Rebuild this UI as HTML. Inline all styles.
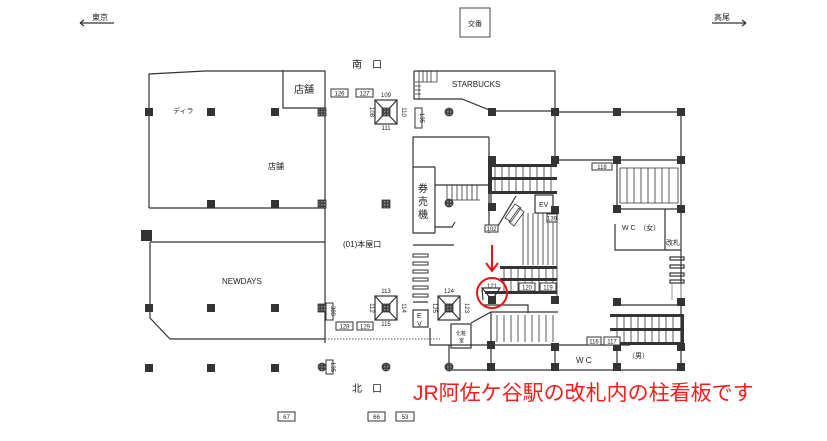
<!DOCTYPE html>
<html><head><meta charset="utf-8"><style>
html,body{margin:0;padding:0;background:#fff;}
svg{display:block;font-family:"Liberation Sans","Noto Sans CJK JP",sans-serif;}
</style></head><body>
<svg width="827" height="441" viewBox="0 0 827 441" xmlns="http://www.w3.org/2000/svg">
<defs>
<pattern id="hatch" width="3" height="3" patternUnits="userSpaceOnUse"><rect width="3" height="3" fill="#444"/><rect width="1.5" height="1.5" fill="#888"/></pattern>
</defs>
<g fill="none" stroke="#333" stroke-width="1.2">
<path d="M80 23 H114 M80 23 l4 -3 M80 23 l4 3"/>
<path d="M712 23 H746 M746 23 l-4 -3 M746 23 l-4 3"/>
<rect x="460" y="8" width="30" height="29" stroke="#666"/>
<path d="M149 208 V74 L205 71 H325 V343"/>
<path d="M283 70 V108 H325"/>
<path d="M149 208 H325 M150 242 H325 M150 242 V318 L170 339 H325"/>
<path d="M325 339 H440" stroke-dasharray="1.5 1.5" stroke="#777"/>
<path d="M414 71 H555 V160 M414 71 V99 H462 L492 111 H555"/>
<path d="M415 82 H437 M437 71 V82 M419 71 V99 M423 71V82 M427 71V82 M431 71 V82 M415 86 H421 M415 90 H421 M415 94 H421" stroke-width="0.8"/>
<path d="M555 112 H681 V160 H555"/>
<path d="M681 160 V370"/>
<path d="M489 137 H413 V233 H435 M435 167 V233 M413 167 H435 M435 185 H489 M435 227 H452 L455 222"/>
<path d="M489 137 V233" />
<path d="M447 185 V200 M452 185 V200 M457 185 V200 M462 185 V200 M467 185 V200 M472 185 V200 M477 185 V200 M447 200 H480" stroke-width="0.8"/>
<path d="M491 165 V210"/>
<path d="M495 165 V193 M502 165 V193 M509 165 V193 M516 165 V193 M523 165 V193 M530 165 V193 M537 165 V193 M544 165 V193 M551 165 V193" stroke-width="0.8"/>
<rect x="535" y="195" width="18" height="18"/>
<path d="M498 226 L516 196"/>
<path d="M505 218 l10 -14 l6 4 l-10 14 z M509 222 l10 -14 l5 4 l-10 14 z" stroke-width="0.8"/>
<path d="M523 213 V265 M528 213 V265 M533 213 V265 M538 213 V265 M543 213 V265 M548 213 V265 M553 213 V265 M557 210 V300" stroke-width="0.8"/>
<path d="M504 267 V292 M511 267 V292 M518 267 V292 M525 267 V292 M532 267 V292 M539 267 V292 M546 267 V292 M553 267 V292" stroke-width="0.8"/>
<path d="M413 245 H454 M413 302 H428"/>
<path d="M483 305 H528 V313 M471 323 L491 312 H558 M491 312 V347"/>
<path d="M497 315 V342 M504 315 V342 M511 315 V342 M518 315 V342 M525 315 V342 M532 315 V342 M539 315 V342 M546 315 V342 M553 315 V342" stroke-width="0.8"/>
<path d="M449 345 H630 M449 345 V370 M430 328 V345 H449 M449 370 H683 M491 345 V370 M555 345 V370 M617 345 V370"/>
<rect x="413" y="310" width="15" height="17"/>
<rect x="451" y="324" width="20" height="24"/>
<path d="M617 161 V209 M617 305 H681"/>
<path d="M620 168 H678 V203 H620 Z M627 168 V203 M634 168 V203 M641 168 V203 M648 168 V203 M655 168 V203 M662 168 V203 M669 168 V203" stroke-width="0.8"/>
<path d="M615 224 V250 H681 M665 209 V250 M617 209 H681"/>
<path d="M672 283 V300 M681 283 V300" stroke="#aaa"/>
<rect x="670" y="257" width="14" height="3"/><rect x="670" y="265" width="14" height="3"/><rect x="670" y="273" width="14" height="3"/><rect x="670" y="280" width="14" height="3"/>
<path d="M617 315 V345 M624 315 V345 M631 315 V345 M638 315 V345 M645 315 V345 M652 315 V345 M659 315 V345 M666 315 V345 M673 315 V345" stroke-width="0.8"/>
<rect x="375" y="100" width="22" height="24"/><path d="M375 100 L397 124 M397 100 L375 124"/>
<rect x="375" y="296" width="22" height="24"/><path d="M375 296 L397 320 M397 296 L375 320"/>
<rect x="438" y="296" width="22" height="24"/><path d="M438 296 L460 320 M460 296 L438 320"/>
<path d="M482 288 H500 L492 300 Z M483 300 L482 288"/>
</g>
<g fill="#fff" stroke="#333" stroke-width="1">
<rect x="413" y="254" width="15" height="3"/><rect x="413" y="262" width="15" height="3"/><rect x="413" y="270" width="15" height="3"/><rect x="413" y="278" width="15" height="3"/><rect x="413" y="286" width="15" height="3"/><rect x="413" y="294" width="15" height="3"/>
</g>
<g fill="#333">
<rect x="489" y="164" width="68" height="3"/><rect x="489" y="177" width="68" height="3"/><rect x="489" y="191" width="68" height="3"/>
<rect x="488" y="164" width="4" height="30"/>
<rect x="500" y="266" width="57" height="3"/><rect x="500" y="278" width="57" height="3"/><rect x="485" y="291" width="72" height="3"/>
<rect x="610" y="314" width="73" height="3"/><rect x="610" y="328" width="73" height="3"/><rect x="610" y="342" width="73" height="3"/>
<rect x="681" y="314" width="3" height="31"/>
</g>
<g fill="#333">
<rect x="145" y="108" width="8" height="8"/><rect x="207" y="108" width="8" height="8"/><rect x="271" y="108" width="8" height="8"/>
<rect x="207" y="200" width="8" height="8"/><rect x="271" y="200" width="8" height="8"/>
<rect x="141" y="230" width="11" height="11"/>
<rect x="145" y="304" width="8" height="8"/><rect x="207" y="304" width="8" height="8"/><rect x="271" y="304" width="8" height="8"/>
<rect x="145" y="364" width="8" height="8"/><rect x="207" y="364" width="8" height="8"/><rect x="271" y="364" width="8" height="8"/>
<rect x="488" y="108" width="8" height="8"/><rect x="551" y="108" width="8" height="8"/><rect x="613" y="108" width="8" height="8"/><rect x="677" y="108" width="8" height="8"/>
<rect x="488" y="156" width="8" height="8"/><rect x="551" y="156" width="8" height="8"/><rect x="613" y="156" width="8" height="8"/><rect x="677" y="156" width="8" height="8"/>
<rect x="488" y="203" width="8" height="8"/><rect x="551" y="206" width="8" height="8"/>
<rect x="613" y="205" width="8" height="8"/><rect x="677" y="205" width="8" height="8"/>
<rect x="488" y="296" width="8" height="8"/><rect x="551" y="296" width="8" height="8"/>
<rect x="613" y="298" width="8" height="8"/><rect x="677" y="298" width="8" height="8"/>
<rect x="487" y="341" width="8" height="8"/><rect x="551" y="343" width="8" height="8"/><rect x="613" y="343" width="8" height="8"/><rect x="677" y="343" width="8" height="8"/>
<rect x="487" y="363" width="8" height="8"/><rect x="551" y="363" width="8" height="8"/><rect x="613" y="363" width="8" height="8"/><rect x="677" y="363" width="8" height="8"/>
</g>
<g fill="url(#hatch)" stroke="#333" stroke-width="0.8">
<rect x="318" y="108" width="8" height="8"/><rect x="318" y="200" width="8" height="8"/><rect x="318" y="304" width="8" height="8"/>
<rect x="382" y="200" width="8" height="8"/>
<rect x="382" y="108" width="8" height="8"/><rect x="382" y="304" width="8" height="8"/><rect x="445" y="304" width="8" height="8"/>
<circle cx="322" cy="367" r="4"/><circle cx="386" cy="367" r="4"/><circle cx="449" cy="367" r="4"/>
<circle cx="449" cy="112" r="4"/><circle cx="449" cy="203" r="4"/>
</g>
<g fill="#fff" stroke="#333" stroke-width="1">
<rect x="331" y="89" width="17" height="8"/><rect x="356" y="89" width="17" height="8"/>
<rect x="415" y="108" width="7" height="20"/>
<rect x="326" y="303" width="7" height="17"/>
<rect x="336" y="322" width="17" height="8"/><rect x="357" y="322" width="16" height="8"/>
<rect x="326" y="360" width="7" height="14"/>
<rect x="278" y="412" width="17" height="9"/><rect x="368" y="412" width="17" height="9"/><rect x="396" y="412" width="18" height="9"/>
<rect x="485" y="225" width="13" height="7"/><rect x="547" y="214" width="10" height="8"/>
<rect x="592" y="163" width="20" height="7"/>
<rect x="519" y="283" width="16" height="8"/><rect x="540" y="283" width="16" height="8"/>
<rect x="587" y="337" width="14" height="8"/><rect x="604" y="337" width="16" height="8"/>
</g>
<g font-size="6" fill="#222" text-anchor="middle">
<text x="339.5" y="95.5">126</text><text x="364.5" y="95.5">127</text>
<text x="344.5" y="328.5">128</text><text x="365" y="328.5">129</text>
<text x="286.5" y="419">67</text><text x="376.5" y="419">66</text><text x="405" y="419">53</text>
<text x="491.5" y="231">102</text><text x="552" y="220.5">139</text><text x="602" y="169">118</text>
<text x="527" y="289.5">120</text><text x="548" y="289.5">119</text>
<text x="594" y="343.5">116</text><text x="612" y="343.5">117</text>
<text x="386" y="97">109</text><text x="386" y="130">111</text>
<text x="386" y="293">113</text><text x="386" y="326">115</text>
<text x="449" y="293">124</text><text x="492" y="288">121</text>
<text transform="translate(370,112) rotate(90)">108</text><text transform="translate(402,112) rotate(90)">110</text>
<text transform="translate(370,308) rotate(90)">112</text><text transform="translate(402,308) rotate(90)">114</text>
<text transform="translate(433,308) rotate(90)">125</text><text transform="translate(465,308) rotate(90)">123</text>
<text transform="translate(420,118) rotate(90)">135</text><text transform="translate(331,311) rotate(90)">389</text>
<text transform="translate(331,367) rotate(90)">135</text>
</g>
<g fill="#222">
<text x="92" y="20" font-size="8">東京</text>
<text x="714" y="20" font-size="8">高尾</text>
<text x="468" y="26" font-size="7">交番</text>
<text x="352" y="68" font-size="10">南　口</text>
<text x="352" y="392" font-size="10">北　口</text>
<text x="294" y="93" font-size="10">店舗</text>
<text x="268" y="169" font-size="8">店舗</text>
<text x="173" y="113" font-size="7">ディラ</text>
<text x="222" y="284" font-size="8">NEWDAYS</text>
<text x="343" y="247" font-size="8">(01)本屋口</text>
<text x="452" y="87" font-size="8">STARBUCKS</text>
<text x="418" y="192" font-size="10">券</text><text x="418" y="205" font-size="10">売</text><text x="418" y="218" font-size="10">機</text>
<text x="539" y="207" font-size="7">EV</text>
<text x="417" y="318" font-size="7">E</text><text x="417" y="326" font-size="7">V</text>
<text x="456" y="335" font-size="5">化粧</text><text x="459" y="342" font-size="5">室</text>
<text x="622" y="230" font-size="7">W C　（女）</text>
<text x="666" y="245" font-size="7">改札</text>
<text x="576" y="363" font-size="8">W C</text>
<text x="628" y="358" font-size="7">（男）</text>
</g>
<g stroke="#ee1111" stroke-width="2" fill="none">
<circle cx="492" cy="293" r="15"/>
<path d="M492 245 V270 M486 263 L492 271 L498 263"/>
</g>
<text x="413" y="400" font-size="21" fill="#ff1a1a">JR阿佐ケ谷駅の改札内の柱看板です</text>
</svg>
</body></html>
